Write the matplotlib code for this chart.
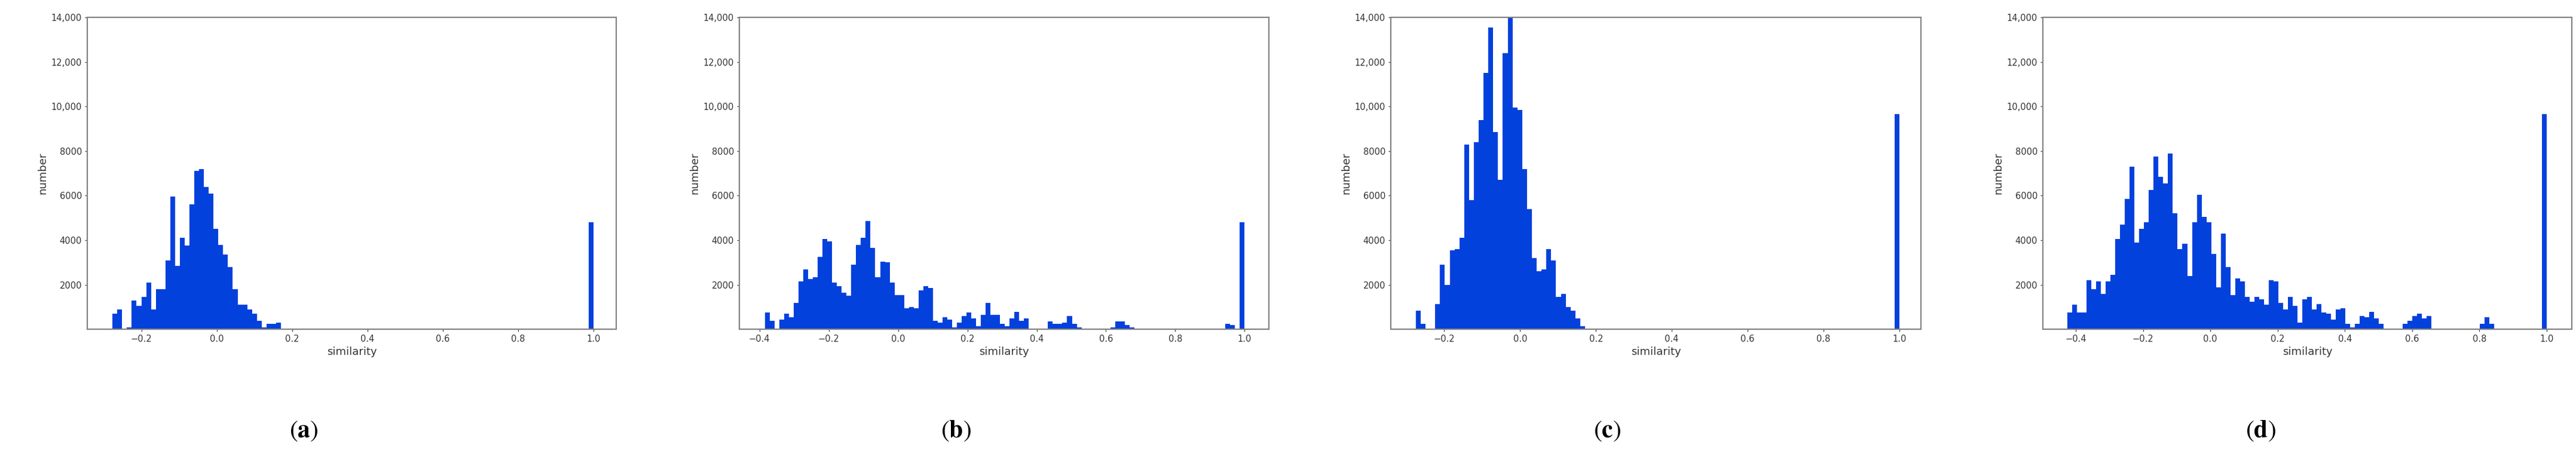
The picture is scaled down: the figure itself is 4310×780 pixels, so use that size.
import numpy as np
import matplotlib
matplotlib.use("Agg")
import matplotlib.pyplot as plt
from matplotlib.ticker import FuncFormatter

plt.rcParams['mathtext.fontset'] = 'stix'

# histogram counts (100 bins each) and bin ranges
range_a = (-0.277, 1.0)
counts_a = [700, 900, 50, 100, 1300, 1050, 1450, 2100, 900, 1800, 1800, 3100, 5950, 2850,
            4100, 3750, 5600, 7100, 7200, 6400, 6100, 4500, 3800, 3350, 2800, 1800, 1100,
            1100, 900, 700, 400, 100, 250, 250, 300, 50, 30] + [0] * 62 + [4800]

range_b = (-0.384, 1.0)
counts_b = [750, 400, 0, 450, 700, 550, 1200, 2150, 2700, 2250, 2350, 3250, 4050, 3950,
            2100, 1950, 1650, 1500, 2900, 3800, 4100, 4850, 3650, 2350, 3050, 3000, 2100,
            1550, 1550, 950, 1000, 950, 1750, 1950, 1850, 400, 300, 550, 450, 100, 300,
            600, 750, 500, 150, 650, 1200, 650, 650, 250, 150, 500, 800, 400, 500, 0, 0,
            0, 50, 350, 250, 250, 300, 600, 250, 100, 50] + [0] * 5 + \
           [100, 350, 350, 200, 100, 50] + [0] * 17 + [50, 250, 200, 0, 4800]

range_c = (-0.275, 1.0)
counts_c = [850, 250, 30, 50, 1150, 2900, 2000, 3550, 3600, 4100, 8300, 5800, 8400, 9400,
            11500, 13550, 8850, 6700, 12400, 14000, 9950, 9850, 7200, 5400, 3200, 2600,
            2700, 3600, 3100, 1450, 1600, 1000, 850, 500, 150, 30] + [0] * 63 + [9650]

range_d = (-0.425, 1.0)
counts_d = [750, 1100, 750, 750, 2200, 1800, 2150, 1600, 2150, 2450, 4050, 4700, 5850, 7300,
            3900, 4500, 4800, 6250, 7750, 6850, 6550, 7900, 5200, 3600, 3850, 2400, 4800,
            6050, 5050, 4800, 3400, 1900, 4300, 2800, 1550, 2300, 2150, 1450, 1250, 1450,
            1350, 1100, 2200, 2150, 1200, 900, 1450, 1050, 300, 1350, 1450, 900, 1150, 750,
            700, 450, 900, 950, 250, 80, 250, 600, 550, 800, 500, 250, 50, 50, 0, 0, 250,
            400, 600, 700, 500, 600, 50] + [0] * 9 + [250, 550, 250, 30] + [0] * 9 + [9650]

panel_letters = ['a', 'b', 'c', 'd']
xticks_ab = [[-0.2, 0.0, 0.2, 0.4, 0.6, 0.8, 1.0],
             [-0.4, -0.2, 0.0, 0.2, 0.4, 0.6, 0.8, 1.0],
             [-0.2, 0.0, 0.2, 0.4, 0.6, 0.8, 1.0],
             [-0.4, -0.2, 0.0, 0.2, 0.4, 0.6, 0.8, 1.0]]
xlims = [(-0.344, 1.06), (-0.458, 1.07), (-0.341, 1.057), (-0.498, 1.075)]
yticks = [2000, 4000, 6000, 8000, 10000, 12000, 14000]

data = [(range_a, counts_a), (range_b, counts_b), (range_c, counts_c), (range_d, counts_d)]
axes_x = [(146, 1031), (1237, 2123), (2327, 3214), (3418, 4303)]
W, H = 4310, 780
color = '#0341dd'

fig = plt.figure(figsize=(W / 100, H / 100), dpi=100)

def fmt(v, pos):
    v = int(round(v))
    return f"{v:,}" if v >= 10000 else str(v)

label_x = [0.118, 0.371, 0.624, 0.8775]
for i, ((rng, cnt), (x0, x1)) in enumerate(zip(data, axes_x)):
    ax = fig.add_axes([x0 / W, 1 - 0.707, (x1 - x0) / W, 0.707 - 0.037])
    edges = np.linspace(rng[0], rng[1], len(cnt) + 1)
    ax.stairs(cnt, edges, fill=True, color=color)
    ax.set_xlim(*xlims[i])
    ax.set_ylim(0, 14000)
    ax.set_yticks(yticks)
    ax.yaxis.set_major_formatter(FuncFormatter(fmt))
    ax.set_xticks(xticks_ab[i])
    ax.set_xticklabels([f"{t:.1f}".replace('-', '\u2212') for t in xticks_ab[i]])
    ax.tick_params(labelsize=10.5, colors='#333333', length=3)
    for s in ax.spines.values():
        s.set_color('#808080')
        s.set_linewidth(1.5)
    ax.set_xlabel('similarity', fontsize=13, color='#333333', labelpad=3)
    ax.set_ylabel('number', fontsize=13, color='#333333', labelpad=4)
    fig.text(label_x[i], 0.075, r'($\mathbf{%s}$)' % panel_letters[i],
             fontsize=30, family='STIXGeneral', ha='center', va='center')

fig.savefig('out.png', dpi=100, facecolor='white')
